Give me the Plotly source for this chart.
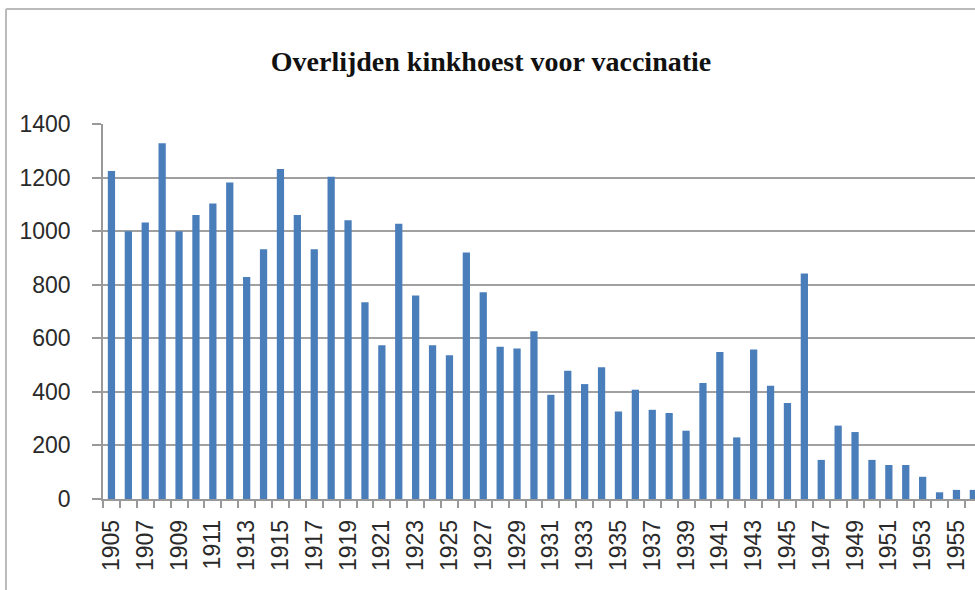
import plotly.graph_objects as go

years = [str(y) for y in range(1905, 1957)]
deaths = [1225, 1000, 1032, 1328, 1000, 1060, 1103, 1182, 829, 932,
          1232, 1060, 932, 1203, 1041, 735, 574, 1028, 760, 574,
          537, 920, 772, 568, 562, 626, 389, 479, 429, 492,
          327, 408, 333, 321, 255, 433, 549, 230, 558, 423,
          358, 842, 146, 274, 250, 146, 127, 127, 83, 25,
          34, 34]
tick_text = [y if (int(y) - 1905) % 2 == 0 else "" for y in years]
title_text = "Overlijden kinkhoest voor vaccinatie"

W, H = 975, 590
L = 103
T = 124
B = H - 499
R = 0
pw = W - L - R
ph = H - T - B

def px_x(px):
    return (px - L) / pw

def px_y(py):
    return (H - B - py) / ph

fig = go.Figure(go.Bar(
    x=years, y=deaths,
    marker=dict(color="#4A7EBB", line=dict(width=0)),
))

fig.update_layout(
    width=W, height=H,
    margin=dict(l=L, r=R, t=T, b=B),
    paper_bgcolor="white", plot_bgcolor="white",
    bargap=0.57,
    showlegend=False,
    title=dict(text=title_text, xref="container", yref="container",
               x=491 / W, y=1 - 61 / H, xanchor="center", yanchor="middle",
               font=dict(family="Liberation Serif", size=28, color="#111111", weight="bold")),
    shapes=[
        dict(type="line", xref="paper", yref="paper",
             x0=px_x(6), x1=px_x(6), y0=px_y(600), y1=px_y(9),
             line=dict(color="#BBBBBB", width=2)),
        dict(type="line", xref="paper", yref="paper",
             x0=px_x(6), x1=px_x(990), y0=px_y(9), y1=px_y(9),
             line=dict(color="#BBBBBB", width=2)),
    ],
)

fig.update_xaxes(
    type="category",
    range=[-0.5, -0.5 + pw / 16.9],
    tickmode="array", tickvals=years, ticktext=tick_text,
    tickson="boundaries",
    ticks="outside", ticklen=7, tickcolor="#999999", tickwidth=1.5,
    tickangle=-90,
    ticklabelstandoff=10,
    tickfont=dict(family="Liberation Sans", size=23, color="#2A2A2A"),
    showline=True, linecolor="#999999", linewidth=1.5,
    showgrid=False, zeroline=False,
)

fig.update_yaxes(
    range=[0, 1400], dtick=200, tick0=0,
    ticks="outside", ticklen=9, tickcolor="#999999", tickwidth=1.5,
    ticklabelstandoff=17,
    tickfont=dict(family="Liberation Sans", size=23, color="#2A2A2A"),
    showline=True, linecolor="#999999", linewidth=1.5,
    showgrid=True, gridcolor="#A0A0A0", gridwidth=1.5,
    zeroline=False,
)

fig.write_html(
    "out.html",
    config={"displayModeBar": False},
    post_script="document.body.style.margin='0';document.body.style.overflow='hidden';",
)
